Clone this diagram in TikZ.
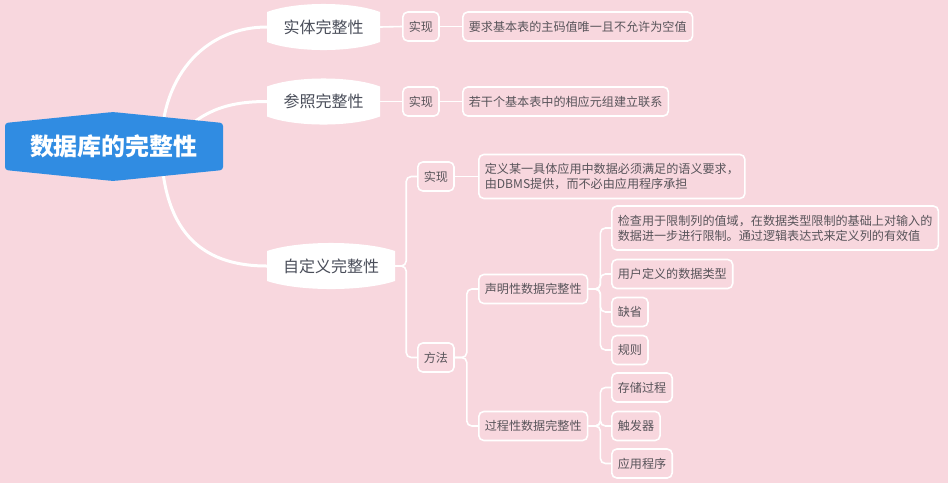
\documentclass[tikz,border=0pt]{standalone}
\usepackage{fontspec}
\setmainfont{Noto Sans CJK SC}
\usetikzlibrary{calc}
\definecolor{bgpink}{RGB}{248,215,222}
\definecolor{rootblue}{RGB}{48,140,226}
\definecolor{lvtxt}{RGB}{74,78,90}
\definecolor{smtxt}{RGB}{88,84,90}
\pgfdeclarelayer{bg}
\pgfdeclarelayer{mid}
\pgfsetlayers{bg,mid,main}
\newcommand\bulgeshape[2]{%
  \fill[white] ($(#1)+(-#2,15)$) -- ($(#1)+(-#2,-15)$)
    .. controls ($(#1)+(-#2/2,-25.7)$) and ($(#1)+(#2/2,-25.7)$) .. ($(#1)+(#2,-15)$)
    -- ($(#1)+(#2,15)$)
    .. controls ($(#1)+(#2/2,25.7)$) and ($(#1)+(-#2/2,25.7)$) .. ($(#1)+(-#2,15)$) -- cycle;}
\begin{document}
\begin{tikzpicture}[x=1pt,y=-1pt,
  rootnode/.style={font=\fontsize{24}{28}\selectfont\bfseries, text=white, minimum width=218, minimum height=47, inner sep=0},
  lone/.style={font=\fontsize{16}{19}\selectfont, text=lvtxt, minimum height=30, inner sep=0},
  box/.style={draw=white, line width=1.6pt, rounded corners=5pt, fill=bgpink, text=smtxt,
    font=\fontsize{12.1}{15}\selectfont, inner xsep=6pt, inner ysep=0pt, minimum height=29, anchor=west},
  twoline/.style={minimum height=44, align=left},
  rootconn/.style={draw=white, line width=3pt},
  conn/.style={draw=white, line width=1.6pt, rounded corners=5pt}]
\useasboundingbox (0,0) rectangle (948,483);
\begin{pgfonlayer}{bg}
  \fill[bgpink] (0,0) rectangle (948,483);
\end{pgfonlayer}

% nodes
\node[rootnode] (r) at (114,146.5) {数据库的完整性};
\node[lone, minimum width=113] (e1) at (323.5,27) {实体完整性};
\node[lone, minimum width=113] (e2) at (323.5,101.5) {参照完整性};
\node[lone, minimum width=128] (e3) at (331,266) {自定义完整性};

\node[box] (i1) at (402,26.5) {实现};
\node[box] (l1) at (462,26.5) {要求基本表的主码值唯一且不允许为空值};
\node[box] (i2) at (402,101.5) {实现};
\node[box] (l2) at (462,101.5) {若干个基本表中的相应元组建立联系};
\node[box] (i3) at (417,176.5) {实现};
\node[box, twoline] (l3) at (478,176.5) {定义某一具体应用中数据必须满足的语义要求，\\由DBMS提供，而不必由应用程序承担};
\node[box] (m) at (417,357.5) {方法};
\node[box] (d) at (478,289) {声明性数据完整性};
\node[box] (p) at (478,426) {过程性数据完整性};
\node[box, twoline] (b1) at (611,228) {检查用于限制列的值域，在数据类型限制的基础上对输入的\\数据进一步进行限制。通过逻辑表达式来定义列的有效值};
\node[box] (b2) at (611,274) {用户定义的数据类型};
\node[box] (b3) at (611,312) {缺省};
\node[box] (b4) at (611,350) {规则};
\node[box] (s1) at (611,387.5) {存储过程};
\node[box] (s2) at (611,426) {触发器};
\node[box] (s3) at (611,463.5) {应用程序};

% shapes
\begin{pgfonlayer}{mid}
  \fill[rootblue, rounded corners=3pt] ($(r)+(-109,-23.5)$) -- ($(r)+(-1,-34.5)$) -- ($(r)+(109,-23.5)$)
     -- ($(r)+(109,23.5)$) -- ($(r)+(-1,34.5)$) -- ($(r)+(-109,23.5)$) -- cycle;
  \bulgeshape{e1}{56.5}
  \bulgeshape{e2}{56.5}
  \bulgeshape{e3}{64}
\end{pgfonlayer}

% connectors
\begin{pgfonlayer}{bg}
  \coordinate (ra) at (161,150);
  \coordinate (rb) at (175,140);
  \coordinate (rd) at (161,140);
  \draw[rootconn] (ra) .. controls (161,70) and (210,27) .. (e1.west);
  \draw[rootconn] (rb) .. controls (200,112) and (225,101.5) .. (e2.west);
  \draw[rootconn] (rd) .. controls (161,230) and (200,266) .. (e3.west);

  \draw[conn] (e1.east) -- (i1.west);
  \draw[conn] (i1.east) -- (l1.west);
  \draw[conn] (e2.east) -- (i2.west);
  \draw[conn] (i2.east) -- (l2.west);
  \draw[conn] (e3.east) -- ++(11,0) |- (i3.west);
  \draw[conn] (e3.east) -- ++(11,0) |- (m.west);
  \draw[conn] (i3.east) -- (l3.west);
  \draw[conn] (m.east) -- ++(12,0) |- (d.west);
  \draw[conn] (m.east) -- ++(12,0) |- (p.west);
  \draw[conn] (d.east) -- ++(12,0) |- (b1.west);
  \draw[conn] (d.east) -- ++(12,0) |- (b2.west);
  \draw[conn] (d.east) -- ++(12,0) |- (b3.west);
  \draw[conn] (d.east) -- ++(12,0) |- (b4.west);
  \draw[conn] (p.east) -- ++(12,0) |- (s1.west);
  \draw[conn] (p.east) -- ++(12,0) |- (s2.west);
  \draw[conn] (p.east) -- ++(12,0) |- (s3.west);
\end{pgfonlayer}
\end{tikzpicture}
\end{document}
